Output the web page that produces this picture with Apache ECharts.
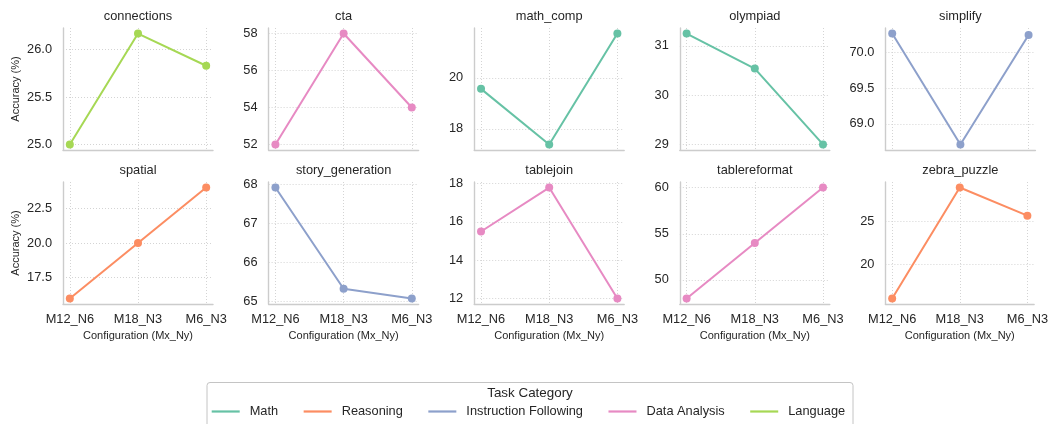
<!DOCTYPE html>
<html><head><meta charset="utf-8">
<script src="https://cdn.jsdelivr.net/npm/echarts@6/dist/echarts.min.js"></script>
<style>html,body{margin:0;padding:0;background:#fff}#c{width:1051px;height:424px}</style>
</head><body><div id="c"></div>
<script>
// ---- data ----
const configs = ['M12_N6', 'M18_N3', 'M6_N3'];
const taskNames = ['connections', 'cta', 'math_comp', 'olympiad', 'simplify',
  'spatial', 'story_generation', 'tablejoin', 'tablereformat', 'zebra_puzzle'];
const taskCategory = ['Language', 'Data Analysis', 'Math', 'Math', 'Instruction Following',
  'Reasoning', 'Instruction Following', 'Data Analysis', 'Data Analysis', 'Reasoning'];

const connectionsVals = [25.0, 26.17, 25.83];
const ctaVals = [52, 58, 54];
const mathCompVals = [19.57, 17.39, 21.74];
const olympiadVals = [31.25, 30.54, 29.0];
const simplifyVals = [70.27, 68.71, 70.25];
const spatialVals = [16, 20, 24];
const storyGenerationVals = [67.92, 65.33, 65.08];
const tablejoinVals = [15.5, 17.8, 12.0];
const tablereformatVals = [48, 54, 60];
const zebraPuzzleVals = [16, 29, 25.7];

const connectionsTicks = [25.0, 25.5, 26.0];
const ctaTicks = [52, 54, 56, 58];
const mathCompTicks = [18, 20];
const olympiadTicks = [29, 30, 31];
const simplifyTicks = [69.0, 69.5, 70.0];
const spatialTicks = [17.5, 20.0, 22.5];
const storyGenerationTicks = [65, 66, 67, 68];
const tablejoinTicks = [12, 14, 16, 18];
const tablereformatTicks = [50, 55, 60];
const zebraPuzzleTicks = [20, 25];

const categoryNames = ['Math', 'Reasoning', 'Instruction Following', 'Data Analysis', 'Language'];
const categoryColors = ['#66c2a5', '#fc8d62', '#8da0cb', '#e78ac3', '#a6d854'];

// ---- build ----
const allVals = [connectionsVals, ctaVals, mathCompVals, olympiadVals, simplifyVals,
  spatialVals, storyGenerationVals, tablejoinVals, tablereformatVals, zebraPuzzleVals];
const allTicks = [connectionsTicks, ctaTicks, mathCompTicks, olympiadTicks, simplifyTicks,
  spatialTicks, storyGenerationTicks, tablejoinTicks, tablereformatTicks, zebraPuzzleTicks];
const tickDecimals = [1, 0, 0, 0, 1, 1, 0, 0, 0, 0];

const FONT = '"Liberation Sans", Arial, sans-serif';
const TXT = '#262626';
const colLeft = [63, 268.6, 474.2, 679.8, 885.4];
const rowTop = [28, 182];
const W = 150, H = 122;

const grids = [], xAxes = [], yAxes = [], series = [], graphics = [];
const ticks3 = configs.map((c, i) => i);

taskNames.forEach((name, i) => {
  const r = Math.floor(i / 5), c = i % 5;
  const left = colLeft[c], top = rowTop[r];
  grids.push({ left: left, top: top, width: W, height: H });
  const vals = allVals[i];
  const lo = Math.min(...vals), hi = Math.max(...vals), pad = (hi - lo) * 0.05;
  const dotted = { show: true, lineStyle: { color: '#d4d4d4', width: 1, type: [1, 2] } };
  xAxes.push({
    type: 'value', gridIndex: i, min: -0.1, max: 2.1,
    axisLine: { show: true, onZero: false, lineStyle: { color: '#cccccc', width: 1.4 } },
    axisTick: { show: false, customValues: ticks3 },
    axisLabel: {
      show: r === 1, customValues: ticks3, margin: 9,
      formatter: v => configs[v] || '', color: TXT, fontSize: 12.8, fontFamily: FONT
    },
    splitLine: dotted,
    name: r === 1 ? 'Configuration (Mx_Ny)' : '', nameLocation: 'middle', nameGap: 26,
    nameTextStyle: { color: TXT, fontSize: 11, fontFamily: FONT }
  });
  const dec = tickDecimals[i];
  yAxes.push({
    type: 'value', gridIndex: i, min: lo - pad, max: hi + pad,
    axisLine: { show: true, onZero: false, lineStyle: { color: '#cccccc', width: 1.4 } },
    axisTick: { show: false, customValues: allTicks[i] },
    axisLabel: {
      customValues: allTicks[i], margin: 11,
      formatter: v => Number(v).toFixed(dec), color: TXT, fontSize: 12.8, fontFamily: FONT
    },
    splitLine: dotted
  });
  const cat = taskCategory[i];
  const color = categoryColors[categoryNames.indexOf(cat)];
  series.push({
    type: 'line', name: cat, xAxisIndex: i, yAxisIndex: i,
    data: vals.map((v, k) => [k, v]),
    color: color,
    symbol: 'circle', symbolSize: 8,
    lineStyle: { width: 2, color: color },
    itemStyle: { color: color },
    animation: false
  });
  graphics.push({
    type: 'text', x: left + W / 2, y: top - 11.5,
    style: { text: name, fill: TXT, font: '12.8px ' + FONT, align: 'center', verticalAlign: 'middle' }
  });
});

// y axis labels
rowTop.forEach(t => {
  graphics.push({
    type: 'text', x: 16, y: t + H / 2, rotation: Math.PI / 2,
    style: { text: 'Accuracy (%)', fill: TXT, font: '11px ' + FONT, align: 'center', verticalAlign: 'middle' }
  });
});

// legend frame & title
graphics.push({
  type: 'rect', shape: { x: 207, y: 382.5, width: 646, height: 60, r: 3 },
  style: { fill: '#fff', stroke: '#c4c4c4', lineWidth: 1 }, z: -1
});
graphics.push({
  type: 'text', x: 530, y: 393.5,
  style: { text: 'Task Category', fill: TXT, font: '13.4px ' + FONT, align: 'center', verticalAlign: 'middle' }
});

const option = {
  animation: false,
  backgroundColor: '#ffffff',
  grid: grids, xAxis: xAxes, yAxis: yAxes, series: series,
  legend: {
    data: categoryNames, left: 211.7, top: 405, orient: 'horizontal',
    icon: 'rect', itemWidth: 28, itemHeight: 2.2, itemGap: 25.5,
    padding: 0, selectedMode: false,
    textStyle: { color: TXT, fontSize: 12.8, fontFamily: FONT, padding: [0, 0, 0, 5] }
  },
  graphic: graphics
};
const chart = echarts.init(document.getElementById('c'), null, { renderer: 'canvas' });
chart.setOption(option);
</script>
</body></html>
